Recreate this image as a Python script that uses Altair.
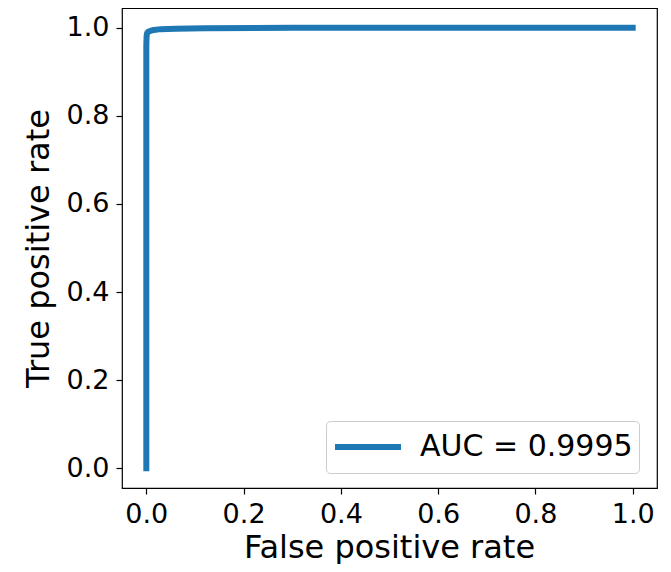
import altair as alt
import pandas as pd

# ROC curve points
fpr = [0.0, 0.0, 0.0005, 0.001, 0.002, 0.004, 0.008, 0.015, 0.03, 0.06, 0.12, 0.3, 1.0]
tpr = [0.0, 0.96, 0.978, 0.985, 0.989, 0.991, 0.993, 0.995, 0.997, 0.998, 0.999, 1.0, 1.0]
series_label = "AUC = 0.9995"
x_ticks = [0.0, 0.2, 0.4, 0.6, 0.8, 1.0]
y_ticks = [0.0, 0.2, 0.4, 0.6, 0.8, 1.0]

df = pd.DataFrame({"fpr": fpr, "tpr": tpr, "idx": list(range(len(fpr))),
                   "series": [series_label] * len(fpr)})

FONT = "DejaVu Sans"

chart = alt.Chart(df).mark_line(
    strokeWidth=6, strokeCap="square", strokeJoin="round", clip=True
).encode(
    x=alt.X("fpr:Q", scale=alt.Scale(domain=[-0.05, 1.05], nice=False, zero=False),
            axis=alt.Axis(values=x_ticks, format=".1f", title="False positive rate",
                          titleX=267, titleY=69, titleBaseline="alphabetic",
                          titleFontSize=32, labelPadding=7)),
    y=alt.Y("tpr:Q", scale=alt.Scale(domain=[-0.045, 1.045], nice=False, zero=False),
            axis=alt.Axis(values=y_ticks, format=".1f", title="True positive rate",
                          titleX=-84, titleY=240, titleAngle=-90, titleBaseline="middle",
                          titleAlign="center", titleFontSize=32, labelPadding=7)),
    order="idx:Q",
    color=alt.Color("series:N", scale=alt.Scale(range=["#1f77b4"]),
                    legend=alt.Legend(title=None, orient="none", legendX=204, legendY=413,
                                      symbolType="stroke", symbolSize=4356,
                                      symbolStrokeWidth=6, labelFontSize=30,
                                      labelOffset=16, padding=6, clipHeight=40,
                                      cornerRadius=4,
                                      fillColor="rgba(255,255,255,0.8)",
                                      strokeColor="#cccccc", labelFont=FONT,
                                      labelColor="black", labelLimit=0)),
).properties(
    width=535, height=480,
    autosize=alt.AutoSizeParams(type="none"),
    padding={"left": 114, "top": 0, "right": 6, "bottom": 76},
).configure(
    background="white"
).configure_view(
    stroke="black", strokeWidth=1.2
).configure_axis(
    grid=False, domain=False, tickColor="black", tickSize=6, tickWidth=1.2,
    labelFont=FONT, titleFont=FONT, labelFontSize=27, labelColor="black",
    titleColor="black", titleFontWeight="normal"
)

chart.save("out.html", embed_options={"renderer": "svg", "actions": False})
